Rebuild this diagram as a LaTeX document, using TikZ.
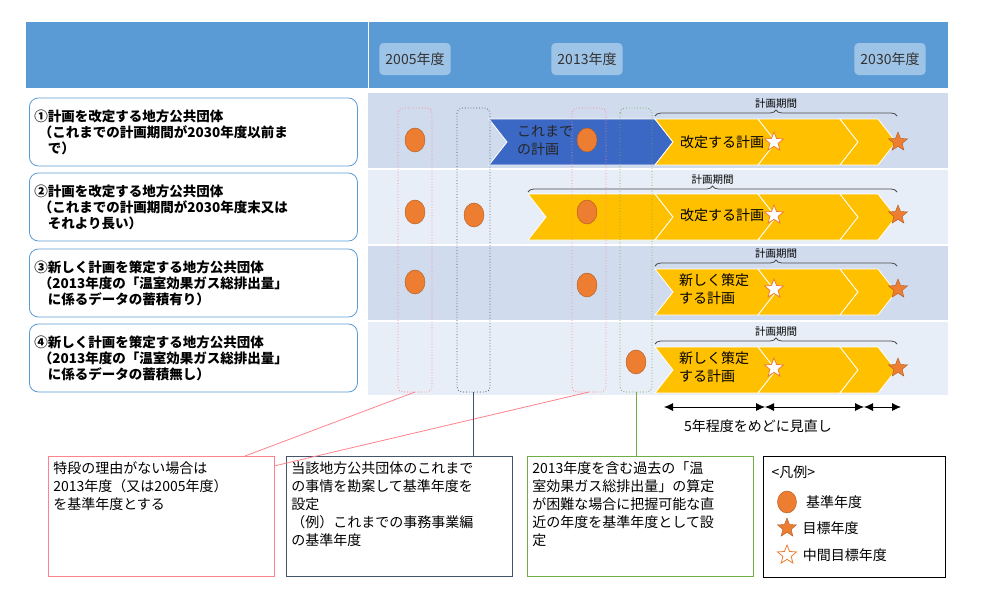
\documentclass[tikz,border=0pt]{standalone}
\usepackage{fontspec}
\setmainfont{Noto Sans CJK JP}
\usetikzlibrary{positioning, arrows, arrows.meta, shapes, decorations.pathreplacing}

\definecolor{hdrblue}{RGB}{91,155,213}
\definecolor{yearbox}{RGB}{157,195,230}
\definecolor{rowdark}{RGB}{208,220,238}
\definecolor{rowlight}{RGB}{232,238,247}
\definecolor{lblblue}{RGB}{91,155,213}
\definecolor{planblue}{RGB}{59,104,196}
\definecolor{planyellow}{RGB}{255,192,0}
\definecolor{dotorange}{RGB}{237,125,49}
\definecolor{dotedge}{RGB}{174,90,33}
\definecolor{callred}{RGB}{255,130,140}
\definecolor{calldark}{RGB}{68,84,106}
\definecolor{callgreen}{RGB}{112,173,71}

\newcommand\bigtext{\fontsize{14}{18}\selectfont}
\newcommand\tinytext{\fontsize{10.5}{12}\selectfont}

\tikzset{
  year/.style={fill=yearbox, rounded corners=4pt, inner sep=6pt, minimum height=32pt, font=\bigtext, text=black!80},
  rowlabel/.style={draw=lblblue, thick, fill=white, rounded corners=9pt, minimum width=328pt, minimum height=68pt, anchor=west, align=left, text width=318pt, font=\bfseries\fontsize{13.5}{16}\selectfont, inner sep=5pt},
  basedot/.style={ellipse, fill=dotorange, draw=dotedge, minimum width=20pt, minimum height=24pt, inner sep=0pt},
  goalstar/.style={star, star points=5, star point ratio=2.3, fill=dotorange, draw=dotedge, minimum size=20pt, inner sep=0pt},
  midstar/.style={star, star points=5, star point ratio=2.3, fill=white, draw=dotorange, thick, minimum size=20pt, inner sep=0pt},
  span/.style={dotted, thick, rounded corners=5pt},
  callout/.style={draw=#1, thick, anchor=north west, inner sep=5pt, font=\bigtext},
  brc/.style={decorate, decoration={brace, amplitude=6pt}, draw=black!70, thick},
  plantext/.style={font=\bigtext, align=left},
  cycle/.style={{Latex[length=9pt,width=8pt]}-{Latex[length=9pt,width=8pt]}, thick},
}

% chevron: left x, right x, centre y, colour
\newcommand\chevron[4]{%
  \fill[#4, draw=white, thick] (#1,#3-23) -- (#2,#3-23) -- (#2+18,#3) -- (#2,#3+23)
    -- (#1,#3+23) -- (#1+18,#3) -- cycle;}
% note body: fixed box, text from the top
\newcommand\notebody[1]{\parbox[t][110pt][t]{216pt}{#1}}

\begin{document}
\begin{tikzpicture}[x=1pt, y=-1pt, >=stealth']
  \useasboundingbox (0,0) rectangle (1000,598);

  % header
  \fill[hdrblue] (26,22) rectangle (948,88);
  \draw[white, thick] (368,22) -- (368,88);
  \node[year] (y05) at (415,59) {2005年度};
  \node[year] (y13) at (587,59) {2013年度};
  \node[year] (y30) at (890,59) {2030年度};

  % rows
  \fill[rowdark]  (368,93)  rectangle (948,168);
  \fill[rowlight] (368,170) rectangle (948,244);
  \fill[rowdark]  (368,246) rectangle (948,320);
  \fill[rowlight] (368,322) rectangle (948,395);

  \node[rowlabel] (r1) at (29,132) {①計画を改定する地方公共団体\\\ （これまでの計画期間が2030年度以前ま\\\ \ \ で）};
  \node[rowlabel] (r2) at (29,207) {②計画を改定する地方公共団体\\\ （これまでの計画期間が2030年度末又は\\\ \ \ それより長い）};
  \node[rowlabel] (r3) at (29,283) {③新しく計画を策定する地方公共団体\\\ （2013年度の「温室効果ガス総排出量」\\\ \ \ に係るデータの蓄積有り）};
  \node[rowlabel] (r4) at (29,358) {④新しく計画を策定する地方公共団体\\\ （2013年度の「温室効果ガス総排出量」\\\ \ \ に係るデータの蓄積無し）};

  % plans
  \chevron{489}{655}{142}{planblue}
  \chevron{655}{758}{142}{planyellow}
  \chevron{758}{840}{142}{planyellow}
  \chevron{840}{878}{142}{planyellow}
  \node[plantext, text=black!85] (old1) at (545,140) {これまで\\の計画};
  \node[plantext] (p1) at (722,142) {改定する計画};

  \chevron{528}{655}{217}{planyellow}
  \chevron{655}{758}{217}{planyellow}
  \chevron{758}{840}{217}{planyellow}
  \chevron{840}{878}{217}{planyellow}
  \node[plantext] (p2) at (722,215) {改定する計画};

  \chevron{655}{758}{292}{planyellow}
  \chevron{758}{840}{292}{planyellow}
  \chevron{840}{878}{292}{planyellow}
  \node[plantext] (p3) at (714,289) {新しく策定\\する計画};

  \chevron{655}{758}{370}{planyellow}
  \chevron{758}{840}{370}{planyellow}
  \chevron{840}{878}{370}{planyellow}
  \node[plantext] (p4) at (714,367) {新しく策定\\する計画};

  % plan periods
  \draw[brc] (655,116) -- (897,116) node[midway, above=4pt, font=\tinytext] {計画期間};
  \draw[brc] (528,192) -- (897,192) node[midway, above=4pt, font=\tinytext] {計画期間};
  \draw[brc] (655,266) -- (897,266) node[midway, above=4pt, font=\tinytext] {計画期間};
  \draw[brc] (655,344) -- (897,344) node[midway, above=4pt, font=\tinytext] {計画期間};

  % base year spans
  \draw[span, callred]   (398,108) rectangle (432,392);
  \draw[span, calldark]  (457,108) rectangle (490,392);
  \draw[span, callred]   (572,108) rectangle (606,392);
  \draw[span, callgreen] (620,108) rectangle (652,392);
  \coordinate (s05) at (415,392);
  \coordinate (sown) at (473,392);
  \coordinate (s13) at (589,392);
  \coordinate (sgrn) at (636,392);

  % base years and targets
  \node[basedot] (b11) at (415,140) {};
  \node[basedot] (b12) at (587,140) {};
  \node[basedot] (b21) at (415,212) {};
  \node[basedot] (b22) at (474,215) {};
  \node[basedot] (b23) at (587,212) {};
  \node[basedot] (b31) at (415,282) {};
  \node[basedot] (b32) at (587,285) {};
  \node[basedot] (b41) at (636,362) {};
  \foreach \yy/\nn in {142/1, 215/2, 289/3, 368/4} {
    \node[midstar] (m\nn) at (774,\yy) {};
    \node[goalstar] (g\nn) at (898,\yy) {};
  }

  % review cycle
  \coordinate (c0) at (664,407);
  \coordinate (c1) at (765,407);
  \coordinate (c2) at (864,407);
  \coordinate (c3) at (901,407);
  \draw[cycle] (c0) -- (c1);
  \draw[cycle] (c1) -- (c2);
  \draw[cycle] (c2) -- (c3);
  \node[font=\bigtext] (review) at (758,426) {5年程度をめどに見直し};

  % notes
  \node[callout=callred] (n1) at (48,456) {\notebody{特段の理由がない場合は\\2013年度（又は2005年度）\\を基準年度とする}};
  \node[callout=calldark] (n2) at (286,456) {\notebody{当該地方公共団体のこれまで\\の事情を勘案して基準年度を\\設定\\\ （例）これまでの事務事業編\\の基準年度}};
  \node[callout=callgreen] (n3) at (527,456) {\notebody{2013年度を含む過去の「温\\室効果ガス総排出量」の算定\\が困難な場合に把握可能な直\\近の年度を基準年度として設\\定}};
  \node[draw=black, thick, minimum width=182pt, minimum height=121pt, anchor=north west] (leg) at (763,456) {};

  \coordinate (n1l) at (245,456);
  \coordinate (n1r) at (274,466);
  \draw[callred, thick] (s05) -- (n1l);
  \draw[callred, thick] (s13) -- (n1r);
  \draw[calldark, thick] (sown) -- (sown |- n2.north);
  \draw[callgreen, thick] (sgrn) -- (sgrn |- n3.north);

  % legend
  \node[font=\bigtext, anchor=west] (lt) at (768,472) {<凡例>};
  \node[basedot, minimum width=19pt, minimum height=22pt] (lb) at (787,502) {};
  \node[font=\bigtext, right=6pt of lb] {基準年度};
  \node[goalstar] (lg) at (787,528) {};
  \node[font=\bigtext, right=6pt of lg] {目標年度};
  \node[midstar] (lm) at (787,555) {};
  \node[font=\bigtext, right=6pt of lm] {中間目標年度};
\end{tikzpicture}
\end{document}
